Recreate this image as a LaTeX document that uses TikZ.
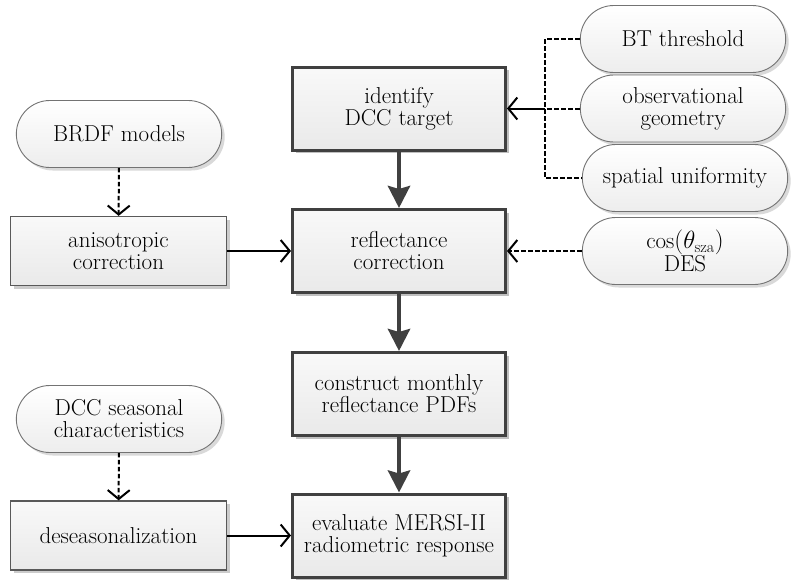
\documentclass[tikz,border=0pt]{standalone}
\usepackage{amsmath}
\usepackage{fontspec}
\usetikzlibrary{arrows.meta, shapes.misc, shadows, positioning}
\tikzstyle{procbox}=[rectangle, draw=black!75, line width=3pt, top color=gray!5, bottom color=gray!17, minimum width=213pt, minimum height=83pt, align=center, drop shadow={shadow xshift=3pt, shadow yshift=-3pt, opacity=0.25, fill=black}]
\tikzstyle{sidebox}=[rectangle, draw=black!65, line width=1.3pt, top color=gray!5, bottom color=gray!17, minimum width=216pt, minimum height=69pt, align=center, drop shadow={shadow xshift=3pt, shadow yshift=-3pt, opacity=0.2, fill=black}]
\tikzstyle{datapill}=[rounded rectangle, draw=black!55, line width=0.9pt, top color=white, bottom color=gray!14, minimum width=212pt, minimum height=67pt, align=center, drop shadow={shadow xshift=3pt, shadow yshift=-3pt, opacity=0.15, fill=black}]
\tikzstyle{mainflow}=[draw=black!75, line width=4.5pt, -{Stealth[length=22pt, width=22pt, inset=3pt]}]
\tikzstyle{feed}=[draw=black, line width=2pt, -{Straight Barb[length=9pt, width=22pt]}]
\tikzstyle{dashfeed}=[feed, dash pattern=on 4.5pt off 2.5pt]
\newcommand{\procbox}{\node[procbox]}
\newcommand{\sidebox}{\node[sidebox]}
\newcommand{\datapill}{\node[datapill]}

\begin{document}
\begin{tikzpicture}[x=1pt, y=-1pt, font=\fontsize{23}{22}\selectfont]
    \useasboundingbox (0,0) rectangle (792,584);
    % main column
    \procbox (ident) at (399,108.5) {identify\\DCC target};
    \procbox (refl) at (399,251) {reflectance\\correction};
    \procbox (pdfs) at (399,394) {construct monthly\\reflectance PDFs};
    \procbox (eval) at (399,535.5) {evaluate MERSI-II\\radiometric response};
    % left column
    \datapill (brdf) at (119,134) {BRDF models};
    \sidebox (aniso) at (118.5,251) {anisotropic\\correction};
    \datapill (season) at (119,419) {DCC seasonal\\characteristics};
    \sidebox (deseas) at (118.5,535.5) {deseasonalization};
    % right column
    \datapill (bt) at (683,39) {BT threshold};
    \datapill (geom) at (683,108.5) {observational\\geometry};
    \datapill (unif) at (685,178) {spatial uniformity};
    \datapill (sza) at (685,251) {$\cos(\theta_{\mathrm{sza}})$\\DES};
    \coordinate (join) at (545,108.5);
    \path
        (ident) edge[mainflow] (refl)
        (refl) edge[mainflow] (pdfs)
        (pdfs) edge[mainflow] (eval)
        (brdf) edge[dashfeed] (aniso)
        (season) edge[dashfeed] (deseas)
        (aniso) edge[feed] (refl)
        (deseas) edge[feed] (eval)
        (sza) edge[dashfeed] (refl)
        (join) edge[feed] (ident)
    ;
    \draw[line width=2pt, dash pattern=on 4.5pt off 2.5pt] (bt.west) -| (join) |- (unif.west);
    \draw[line width=2pt, dash pattern=on 4.5pt off 2.5pt] (geom.west) -- (join);
\end{tikzpicture}
\end{document}
